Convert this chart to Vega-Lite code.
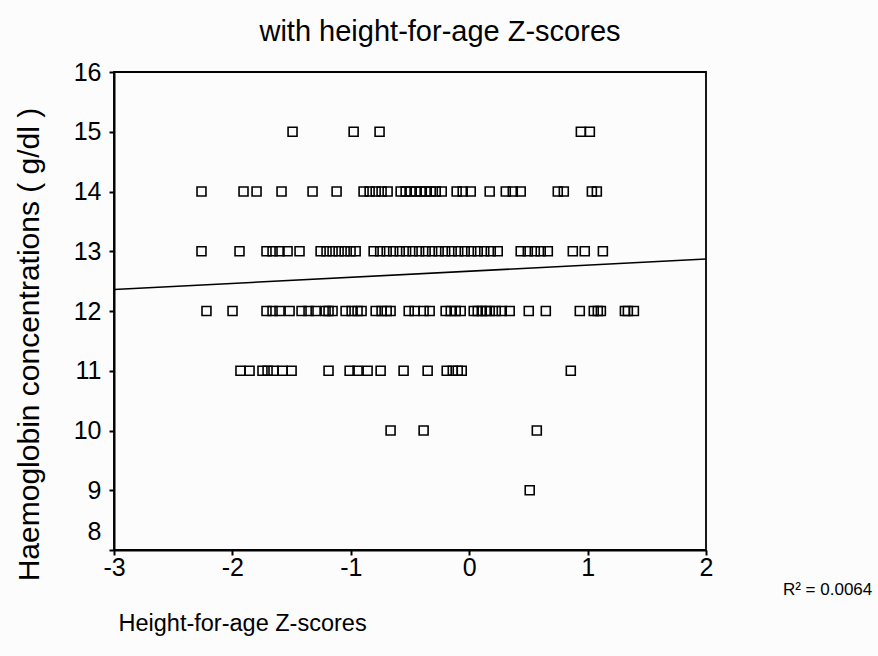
{
  "$schema": "https://vega.github.io/schema/vega-lite/v6.json",
  "width": 592,
  "height": 478,
  "autosize": {"type": "none"},
  "padding": {"left": 114, "top": 72, "right": 172, "bottom": 106},
  "background": "#fcfcfc",
  "config": {
    "font": "Liberation Sans",
    "view": {"stroke": "black", "strokeWidth": 1.8}
  },
  "title": {
    "text": "with height-for-age Z-scores",
    "fontSize": 29,
    "fontWeight": "normal",
    "color": "black",
    "anchor": "middle",
    "dx": 30,
    "offset": 13
  },
  "datasets": {
    "points": [
      {"z": -1.492, "hb": 15}, {"z": -0.976, "hb": 15}, {"z": -0.757, "hb": 15}, {"z": 0.943, "hb": 15}, {"z": 1.019, "hb": 15},
      {"z": -2.261, "hb": 14}, {"z": -1.906, "hb": 14}, {"z": -1.796, "hb": 14}, {"z": -1.585, "hb": 14}, {"z": -1.323, "hb": 14}, {"z": -1.12, "hb": 14},
      {"z": -0.892, "hb": 14}, {"z": -0.841, "hb": 14}, {"z": -0.79, "hb": 14}, {"z": -0.74, "hb": 14}, {"z": -0.689, "hb": 14},
      {"z": -0.579, "hb": 14}, {"z": -0.537, "hb": 14}, {"z": -0.495, "hb": 14}, {"z": -0.452, "hb": 14}, {"z": -0.41, "hb": 14}, {"z": -0.368, "hb": 14}, {"z": -0.325, "hb": 14}, {"z": -0.283, "hb": 14}, {"z": -0.232, "hb": 14},
      {"z": -0.106, "hb": 14}, {"z": -0.055, "hb": 14}, {"z": 0.013, "hb": 14}, {"z": 0.173, "hb": 14},
      {"z": 0.309, "hb": 14}, {"z": 0.368, "hb": 14}, {"z": 0.435, "hb": 14}, {"z": 0.748, "hb": 14}, {"z": 0.799, "hb": 14}, {"z": 1.036, "hb": 14}, {"z": 1.078, "hb": 14},
      {"z": -2.261, "hb": 13}, {"z": -1.94, "hb": 13}, {"z": -1.712, "hb": 13}, {"z": -1.661, "hb": 13}, {"z": -1.602, "hb": 13}, {"z": -1.534, "hb": 13}, {"z": -1.433, "hb": 13},
      {"z": -1.255, "hb": 13}, {"z": -1.205, "hb": 13}, {"z": -1.154, "hb": 13}, {"z": -1.103, "hb": 13}, {"z": -1.052, "hb": 13}, {"z": -1.002, "hb": 13}, {"z": -0.959, "hb": 13},
      {"z": -0.807, "hb": 13}, {"z": -0.752, "hb": 13}, {"z": -0.697, "hb": 13}, {"z": -0.642, "hb": 13}, {"z": -0.587, "hb": 13}, {"z": -0.533, "hb": 13}, {"z": -0.478, "hb": 13}, {"z": -0.423, "hb": 13}, {"z": -0.368, "hb": 13}, {"z": -0.313, "hb": 13},
      {"z": -0.258, "hb": 13}, {"z": -0.203, "hb": 13}, {"z": -0.148, "hb": 13}, {"z": -0.093, "hb": 13}, {"z": -0.038, "hb": 13}, {"z": 0.017, "hb": 13}, {"z": 0.072, "hb": 13}, {"z": 0.127, "hb": 13}, {"z": 0.182, "hb": 13}, {"z": 0.241, "hb": 13},
      {"z": 0.435, "hb": 13}, {"z": 0.495, "hb": 13}, {"z": 0.554, "hb": 13}, {"z": 0.604, "hb": 13}, {"z": 0.664, "hb": 13}, {"z": 0.875, "hb": 13}, {"z": 0.976, "hb": 13}, {"z": 1.129, "hb": 13},
      {"z": -2.219, "hb": 12}, {"z": -1.999, "hb": 12}, {"z": -1.712, "hb": 12}, {"z": -1.661, "hb": 12}, {"z": -1.602, "hb": 12}, {"z": -1.517, "hb": 12},
      {"z": -1.416, "hb": 12}, {"z": -1.357, "hb": 12}, {"z": -1.297, "hb": 12}, {"z": -1.213, "hb": 12}, {"z": -1.188, "hb": 12}, {"z": -1.154, "hb": 12},
      {"z": -1.044, "hb": 12}, {"z": -0.993, "hb": 12}, {"z": -0.943, "hb": 12}, {"z": -0.909, "hb": 12}, {"z": -0.79, "hb": 12}, {"z": -0.74, "hb": 12}, {"z": -0.697, "hb": 12}, {"z": -0.664, "hb": 12},
      {"z": -0.511, "hb": 12}, {"z": -0.461, "hb": 12}, {"z": -0.385, "hb": 12}, {"z": -0.334, "hb": 12}, {"z": -0.199, "hb": 12}, {"z": -0.156, "hb": 12}, {"z": -0.114, "hb": 12}, {"z": -0.072, "hb": 12},
      {"z": 0.038, "hb": 12}, {"z": 0.072, "hb": 12}, {"z": 0.106, "hb": 12}, {"z": 0.139, "hb": 12}, {"z": 0.173, "hb": 12}, {"z": 0.224, "hb": 12}, {"z": 0.275, "hb": 12}, {"z": 0.342, "hb": 12},
      {"z": 0.503, "hb": 12}, {"z": 0.647, "hb": 12}, {"z": 0.934, "hb": 12}, {"z": 1.052, "hb": 12}, {"z": 1.086, "hb": 12}, {"z": 1.112, "hb": 12}, {"z": 1.315, "hb": 12}, {"z": 1.34, "hb": 12}, {"z": 1.391, "hb": 12},
      {"z": -1.932, "hb": 11}, {"z": -1.855, "hb": 11}, {"z": -1.746, "hb": 11}, {"z": -1.703, "hb": 11}, {"z": -1.653, "hb": 11}, {"z": -1.576, "hb": 11}, {"z": -1.5, "hb": 11},
      {"z": -1.188, "hb": 11}, {"z": -1.01, "hb": 11}, {"z": -0.943, "hb": 11}, {"z": -0.858, "hb": 11}, {"z": -0.748, "hb": 11}, {"z": -0.554, "hb": 11}, {"z": -0.351, "hb": 11},
      {"z": -0.19, "hb": 11}, {"z": -0.139, "hb": 11}, {"z": -0.097, "hb": 11}, {"z": -0.063, "hb": 11}, {"z": 0.858, "hb": 11},
      {"z": -0.664, "hb": 10}, {"z": -0.385, "hb": 10}, {"z": 0.571, "hb": 10},
      {"z": 0.511, "hb": 9}
    ],
    "fit": [
      {"z": -3, "hb": 12.36},
      {"z": 2, "hb": 12.87}
    ],
    "note": [
      {"z": 2.65, "hb": 7.25, "label": "R² = 0.0064"}
    ]
  },
  "encoding": {
    "x": {
      "field": "z",
      "type": "quantitative",
      "scale": {"domain": [-3, 2], "nice": false, "zero": false},
      "axis": {
        "values": [-3, -2, -1, 0, 1, 2],
        "labelExpr": "'' + datum.value",
        "labelFlush": false,
        "grid": false,
        "tickSize": 5,
        "tickColor": "black",
        "tickWidth": 2,
        "domainColor": "black",
        "domainWidth": 2,
        "labelFontSize": 25,
        "labelColor": "black",
        "labelPadding": 0,
        "title": "Height-for-age Z-scores",
        "titleFontSize": 23.5,
        "titleFontWeight": "normal",
        "titleColor": "black",
        "titleAlign": "left",
        "titleAnchor": "start",
        "titleBaseline": "alphabetic",
        "titleX": 4,
        "titleY": 80
      }
    },
    "y": {
      "field": "hb",
      "type": "quantitative",
      "scale": {"domain": [8, 16], "nice": false, "zero": false},
      "axis": {
        "values": [8, 9, 10, 11, 12, 13, 14, 15, 16],
        "grid": false,
        "tickSize": 5,
        "tickColor": "black",
        "tickWidth": 2,
        "domainColor": "black",
        "domainWidth": 2,
        "labelFontSize": 25,
        "labelColor": "black",
        "labelPadding": 8,
        "labelOffset": {"condition": {"test": "datum.value == 8", "value": -19}, "value": 0},
        "title": "Haemoglobin concentrations ( g/dl )",
        "titleFontSize": 30,
        "titleFontWeight": "normal",
        "titleColor": "black",
        "titlePadding": 29,
        "titleY": 272
      }
    }
  },
  "layer": [
    {
      "data": {"name": "points"},
      "mark": {"type": "point", "shape": "square", "filled": false, "size": 80, "stroke": "black", "strokeWidth": 1.6, "opacity": 1}
    },
    {
      "data": {"name": "fit"},
      "mark": {"type": "line", "color": "black", "strokeWidth": 1.6}
    },
    {
      "data": {"name": "note"},
      "mark": {"type": "text", "align": "left", "baseline": "alphabetic", "fontSize": 17, "color": "black"},
      "encoding": {"text": {"field": "label"}}
    }
  ]
}
